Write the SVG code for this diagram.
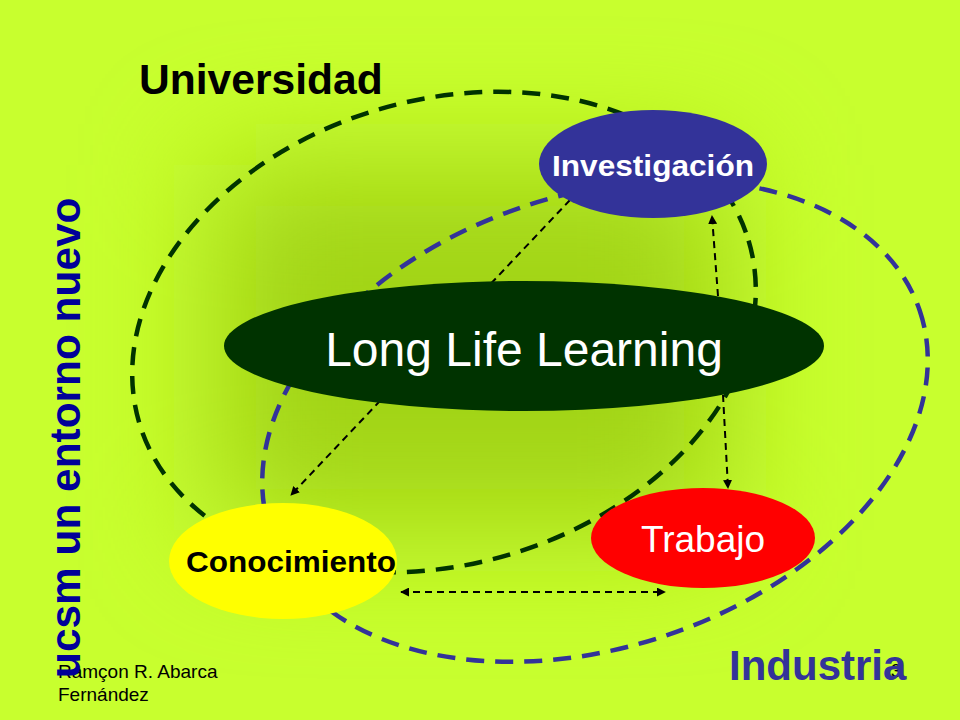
<svg xmlns="http://www.w3.org/2000/svg" width="960" height="720" viewBox="0 0 960 720">
<style>
text{font-family:"Liberation Sans",Arial,sans-serif}
.b{font-weight:bold}
.ring{fill:none;stroke-width:4.5;stroke-dasharray:18 11}
.link{fill:none;stroke:#000;stroke-width:2;stroke-dasharray:7 5}
</style>
<defs>
<filter id="soft" x="-60%" y="-60%" width="220%" height="220%"><feGaussianBlur stdDeviation="62"/></filter>
<marker id="ah" viewBox="0 0 10 10" refX="9" refY="5" markerWidth="9" markerHeight="9" markerUnits="userSpaceOnUse" orient="auto-start-reverse"><path d="M0 0L10 5L0 10Z" fill="#000"/></marker>
</defs>
<rect id="background" width="960" height="720" fill="#c8ff2e"/>
<rect x="215" y="165" width="510" height="365" fill="#a2d412" filter="url(#soft)"/>
<g id="connectors">
<ellipse class="ring" cx="0" cy="0" rx="318" ry="232" stroke="#003300" stroke-width="5" transform="translate(444 332) rotate(-16.7)"/>
<ellipse class="ring" cx="0" cy="0" rx="343" ry="226" stroke="#333399" transform="translate(595 421) rotate(-18.8)"/>
<path class="link" d="M570 200L291 495" marker-end="url(#ah)"/>
<path class="link" d="M718 296L712 216" marker-end="url(#ah)"/>
<path class="link" d="M723 395L728 488" marker-end="url(#ah)"/>
<path class="link" d="M401 592H665" marker-start="url(#ah)" marker-end="url(#ah)"/>
</g>
<g id="long-life"><ellipse cx="524" cy="346" rx="300" ry="65" fill="#003300"/><text x="524" y="366" font-size="48" fill="#fff" text-anchor="middle">Long Life Learning</text></g>
<g id="investigacion"><ellipse cx="653" cy="164" rx="114" ry="54" fill="#333399"/><text class="b" x="552" y="176" font-size="30" fill="#fff" textLength="202" lengthAdjust="spacingAndGlyphs">Investigación</text></g>
<g id="conocimiento"><ellipse cx="283" cy="561" rx="114" ry="58" fill="#ffff00"/><text class="b" x="186" y="572" font-size="30" fill="#000" textLength="210" lengthAdjust="spacingAndGlyphs">Conocimiento</text></g>
<g id="trabajo"><ellipse cx="703" cy="538" rx="112" ry="50" fill="#ff0000"/><text x="703" y="552" font-size="37" fill="#fff" text-anchor="middle">Trabajo</text></g>
<text id="universidad" class="b" x="139" y="94" font-size="42.6" fill="#000">Universidad</text>
<text x="58" y="678" font-size="19" fill="#000">Ramçon R. Abarca</text>
<text x="58" y="701" font-size="19" fill="#000">Fernández</text>
<text x="896" y="677" font-size="19" fill="#000" text-anchor="middle">3</text>
<text id="industria" class="b" x="729" y="680" font-size="42" fill="#333399">Industria</text>
<text id="side" class="b" transform="translate(80 678) rotate(-90)" font-size="42.4" fill="#000099">ucsm un entorno nuevo</text>
</svg>
